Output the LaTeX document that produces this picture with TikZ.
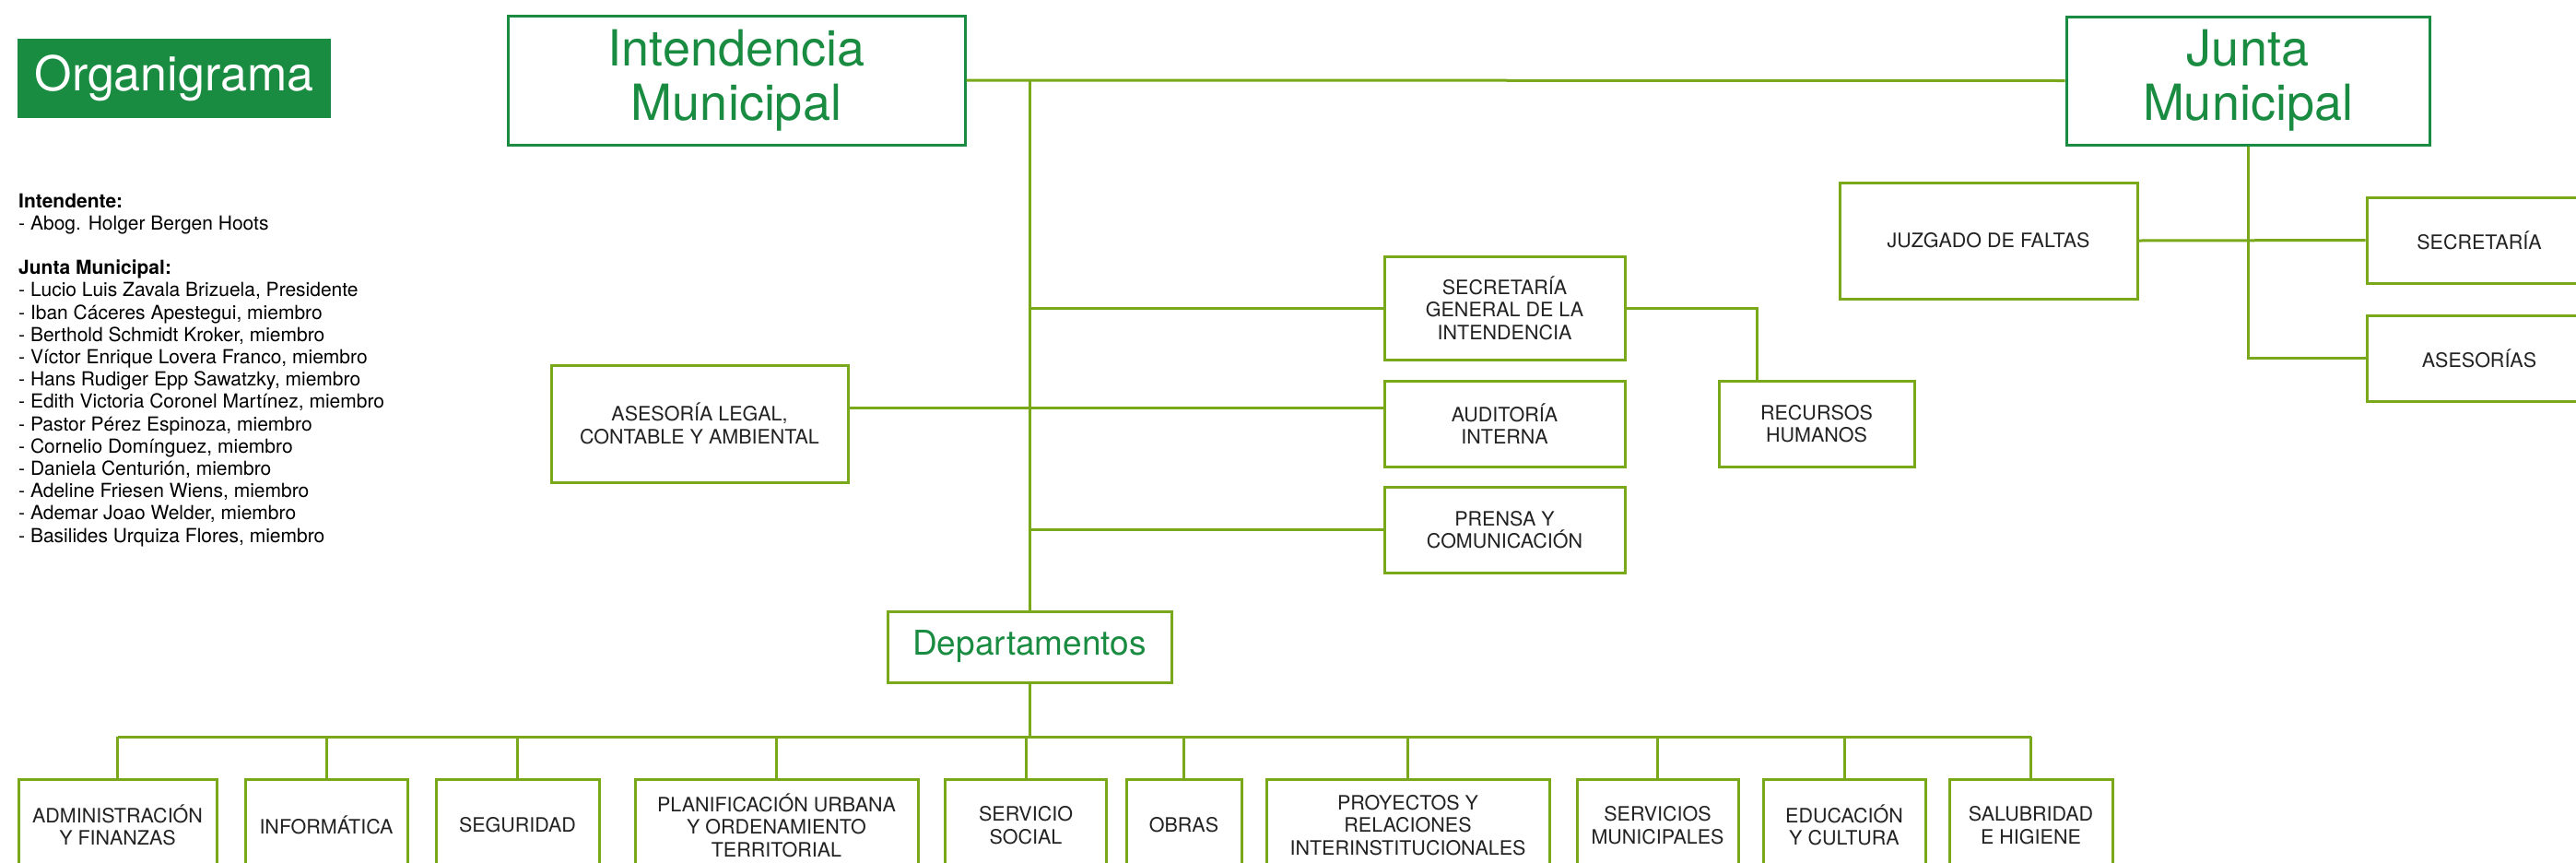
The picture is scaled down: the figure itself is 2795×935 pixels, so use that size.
\documentclass[tikz,border=0pt]{standalone}
\usepackage{fontspec}
\setmainfont{TeX Gyre Heros}
\definecolor{dgreen}{HTML}{1A8C42}
\definecolor{lime}{HTML}{79A81B}
\definecolor{ink}{HTML}{222222}
\tikzset{
  conn/.style={draw=lime, line width=3pt},
  lbox/.style={draw=lime, line width=3pt, inner sep=0pt, align=center, text=ink,
    font=\fontsize{21.5}{24.5}\selectfont},
  tbox/.style={draw=dgreen, line width=3pt, inner sep=0pt, align=center, text=dgreen,
    font=\fontsize{54}{59}\selectfont},
  infoline/.style={anchor=base west, inner sep=0pt, text=black, font=\fontsize{21}{24}\selectfont},
}
\begin{document}
\begin{tikzpicture}[x=1pt,y=-1pt]
\fill[white] (0,0) rectangle (2795,935);
\useasboundingbox (0,0) rectangle (2795,935);

% title
\node[fill=dgreen, minimum width=340pt, minimum height=86pt, inner sep=0pt, text=white,
  font=\fontsize{52}{52}\selectfont] (org) at (189,85) {Organigrama};

% info text
\foreach \t [count=\i from 0] in {{\textbf{Intendente:}},{- Abog. Holger Bergen Hoots},{},{\textbf{Junta Municipal:}},
  {- Lucio Luis Zavala Brizuela, Presidente},{- Iban Cáceres Apestegui, miembro},{- Berthold Schmidt Kroker, miembro},
  {- Víctor Enrique Lovera Franco, miembro},{- Hans Rudiger Epp Sawatzky, miembro},{- Edith Victoria Coronel Martínez, miembro},
  {- Pastor Pérez Espinoza, miembro},{- Cornelio Domínguez, miembro},{- Daniela Centurión, miembro},
  {- Adeline Friesen Wiens, miembro},{- Ademar Joao Welder, miembro},{- Basilides Urquiza Flores, miembro}}
  \node[infoline] (info\i) at (20,{225+\i*24.2}) {\t};

% top level
\node[tbox, minimum width=496pt, minimum height=140pt] (int) at (799,87) {Intendencia\\Municipal};
\node[tbox, minimum width=394pt, minimum height=139pt] (jun) at (2439,87.5) {Junta\\Municipal};

% junta side
\node[lbox, minimum width=323pt, minimum height=126pt] (juz) at (2157.5,261) {JUZGADO DE FALTAS};
\node[lbox, minimum width=244pt, minimum height=93pt] (sec) at (2690,260.5) {SECRETARÍA};
\node[lbox, minimum width=244pt, minimum height=93pt] (ase) at (2690,388.5) {ASESORÍAS};

% intendencia side
\node[lbox, minimum width=261pt, minimum height=112pt] (sg) at (1632.5,334) {SECRETARÍA\\GENERAL DE LA\\INTENDENCIA};
\node[lbox, minimum width=322pt, minimum height=127pt] (asl) at (759,459.5) {ASESORÍA LEGAL,\\CONTABLE Y AMBIENTAL};
\node[lbox, minimum width=261pt, minimum height=93pt] (aud) at (1632.5,459.5) {AUDITORÍA\\INTERNA};
\node[lbox, minimum width=212pt, minimum height=93pt] (rh) at (1971,459.5) {RECURSOS\\HUMANOS};
\node[lbox, minimum width=261pt, minimum height=93pt] (pr) at (1632.5,574.5) {PRENSA Y\\COMUNICACIÓN};

\node[lbox, minimum width=308pt, minimum height=77pt, text=dgreen, font=\fontsize{37}{40}\selectfont] (dep) at (1117,701.5) {Departamentos};

% departments
\node[lbox, minimum width=215pt, minimum height=100pt] (adm) at (127.5,895) {ADMINISTRACIÓN\\Y FINANZAS};
\node[lbox, minimum width=176pt, minimum height=100pt] (inf) at (354,895) {INFORMÁTICA};
\node[lbox, minimum width=177pt, minimum height=100pt] (seg) at (561.5,895) {SEGURIDAD};
\node[lbox, minimum width=307pt, minimum height=100pt] (pla) at (842.5,895) {PLANIFICACIÓN URBANA\\Y ORDENAMIENTO\\TERRITORIAL};
\node[lbox, minimum width=175pt, minimum height=100pt] (soc) at (1113,895) {SERVICIO\\SOCIAL};
\node[lbox, minimum width=125pt, minimum height=100pt] (obr) at (1284.5,895) {OBRAS};
\node[lbox, minimum width=307pt, minimum height=100pt] (pro) at (1527.5,895) {PROYECTOS Y\\RELACIONES\\INTERINSTITUCIONALES};
\node[lbox, minimum width=175pt, minimum height=100pt] (mun) at (1798.5,895) {SERVICIOS\\MUNICIPALES};
\node[lbox, minimum width=176pt, minimum height=100pt] (edu) at (2001,895) {EDUCACIÓN\\Y CULTURA};
\node[lbox, minimum width=177pt, minimum height=100pt] (sal) at (2203.5,895) {SALUBRIDAD\\E HIGIENE};

% connectors
\coordinate (trunk) at (1117,87);
\coordinate (bus) at (0,799);
\draw[conn] (int.east) -- (jun.west);
\draw[conn] (trunk) -- (dep.north);
\draw[conn] (trunk |- sg.west) -- (sg.west);
\draw[conn] ([yshift=17.5pt]asl.east) -- ([yshift=17.5pt]aud.west);
\draw[conn] (trunk |- pr.west) -- (pr.west);
\draw[conn] (sg.east) -| ([xshift=-65pt]rh.north);
\draw[conn] (jun.south) |- (ase.west);
\draw[conn] (juz.east) -- (sec.west);
\draw[conn] (dep.south) -- (dep.south |- bus);
\draw[conn] (adm.north |- bus) -- (sal.north |- bus);
\foreach \n in {adm,inf,seg,pla,soc,obr,pro,mun,edu,sal}
  \draw[conn] (\n.north |- bus) -- (\n.north);
\end{tikzpicture}
\end{document}
